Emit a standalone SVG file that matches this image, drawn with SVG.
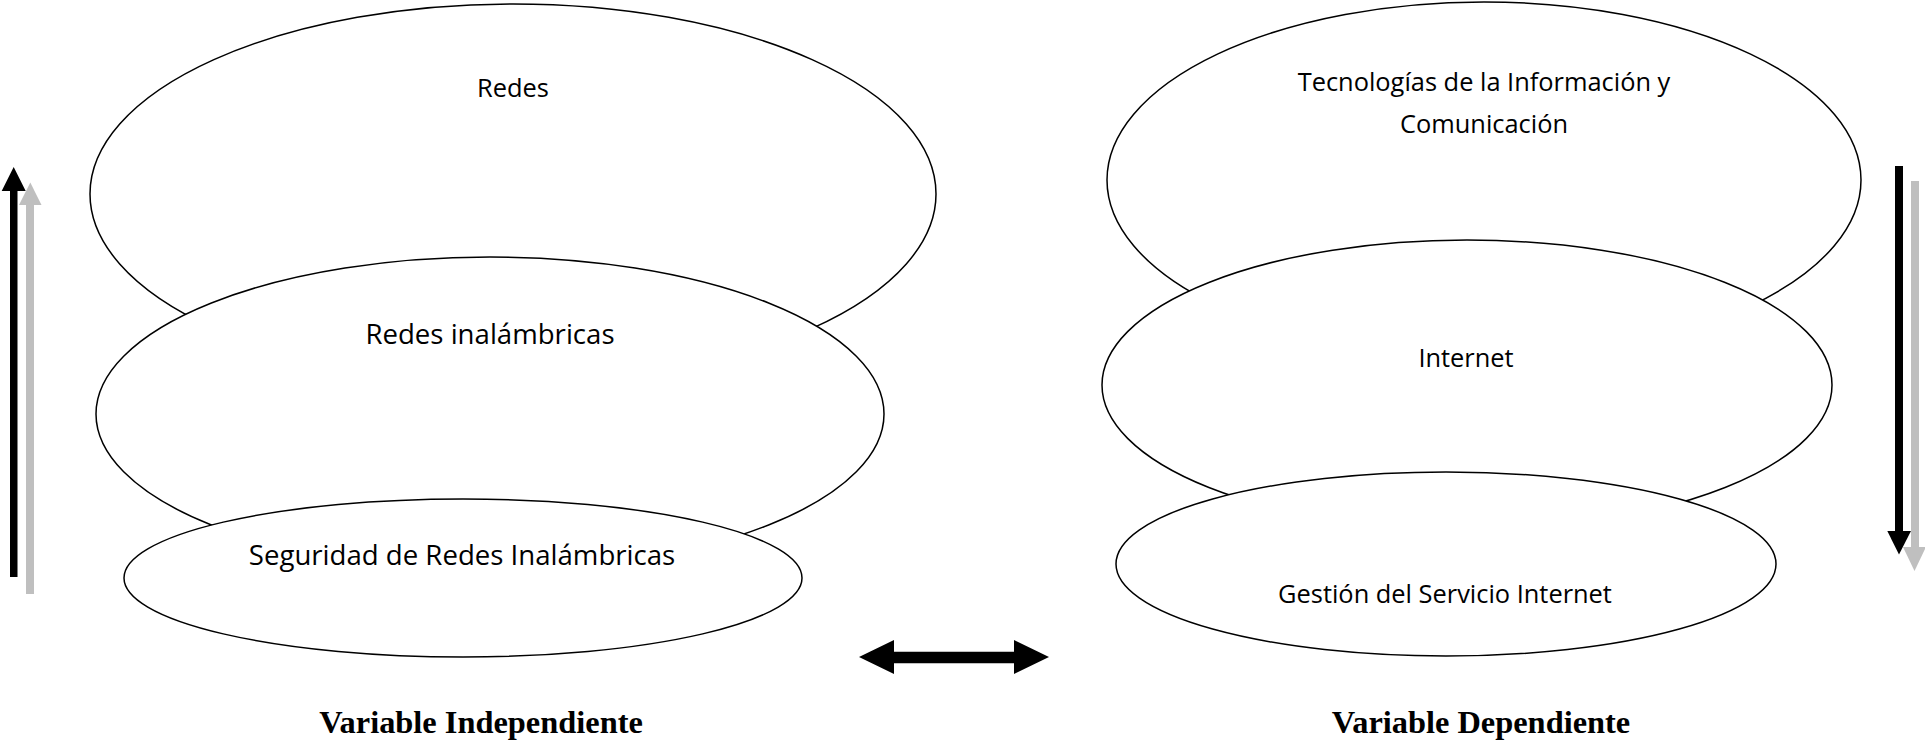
<svg xmlns="http://www.w3.org/2000/svg" width="1925" height="743" viewBox="0 0 1925 743">
  <style>
    .oval { fill: #ffffff; stroke: #000000; stroke-width: 1.5; }
    .lbl { font-family: "Open Sans", "Noto Sans", sans-serif; fill: #000000; text-anchor: middle; }
    .sm { font-size: 25.4px; }
    .lg { font-size: 27.6px; }
    .var { font-family: "Liberation Serif", "Times New Roman", serif; font-weight: bold; font-size: 32.4px; text-anchor: middle; fill: #000000; }
    .dark { fill: #000000; }
    .light { fill: #bfbfbf; }
  </style>

  <rect width="1925" height="743" fill="#ffffff"/>

  <!-- Independent variable stack -->
  <g id="redes">
    <ellipse class="oval" cx="513" cy="194" rx="423" ry="190"/>
    <text class="lbl sm" x="513" y="97">Redes</text>
  </g>
  <g id="redes-inalambricas">
    <ellipse class="oval" cx="490" cy="414" rx="394" ry="157"/>
    <text class="lbl lg" x="490" y="344">Redes inalámbricas</text>
  </g>
  <g id="seguridad">
    <ellipse class="oval" cx="463" cy="578" rx="339" ry="79"/>
    <text class="lbl lg" x="462" y="565">Seguridad de Redes Inalámbricas</text>
  </g>

  <!-- Dependent variable stack -->
  <g id="tic">
    <ellipse class="oval" cx="1484" cy="180" rx="377" ry="178"/>
    <text class="lbl sm" x="1484" y="91">Tecnologías de la Información y</text>
    <text class="lbl sm" x="1484" y="133">Comunicación</text>
  </g>
  <g id="internet">
    <ellipse class="oval" cx="1467" cy="385" rx="365" ry="145"/>
    <text class="lbl sm" x="1466" y="367">Internet</text>
  </g>
  <g id="gestion">
    <ellipse class="oval" cx="1446" cy="564" rx="330" ry="92"/>
    <text class="lbl sm" x="1445" y="603">Gestión del Servicio Internet</text>
  </g>

  <!-- Connectors -->
  <g id="connectors">
    <!-- upward pair, left -->
    <rect class="light" x="26" y="204" width="8" height="390"/>
    <polygon class="light" points="19,205 41.5,205 30.3,182.5"/>
    <rect class="dark" x="10" y="189" width="7.5" height="388"/>
    <polygon class="dark" points="1.7,191 25.7,191 13.7,167"/>
    <!-- downward pair, right -->
    <rect class="light" x="1911" y="181" width="8" height="367"/>
    <polygon class="light" points="1903,547 1926,547 1914.5,571"/>
    <rect class="dark" x="1895" y="166" width="8" height="366"/>
    <polygon class="dark" points="1887.3,531 1911,531 1899,554.5"/>
    <!-- two-way link between the stacks -->
    <polygon class="dark" points="859,657 894,640 894,651.7 1014,651.7 1014,640 1049,657 1014,674 1014,663.3 894,663.3 894,674"/>
  </g>

  <text class="var" x="481" y="733">Variable Independiente</text>
  <text class="var" x="1481" y="733">Variable Dependiente</text>
</svg>
